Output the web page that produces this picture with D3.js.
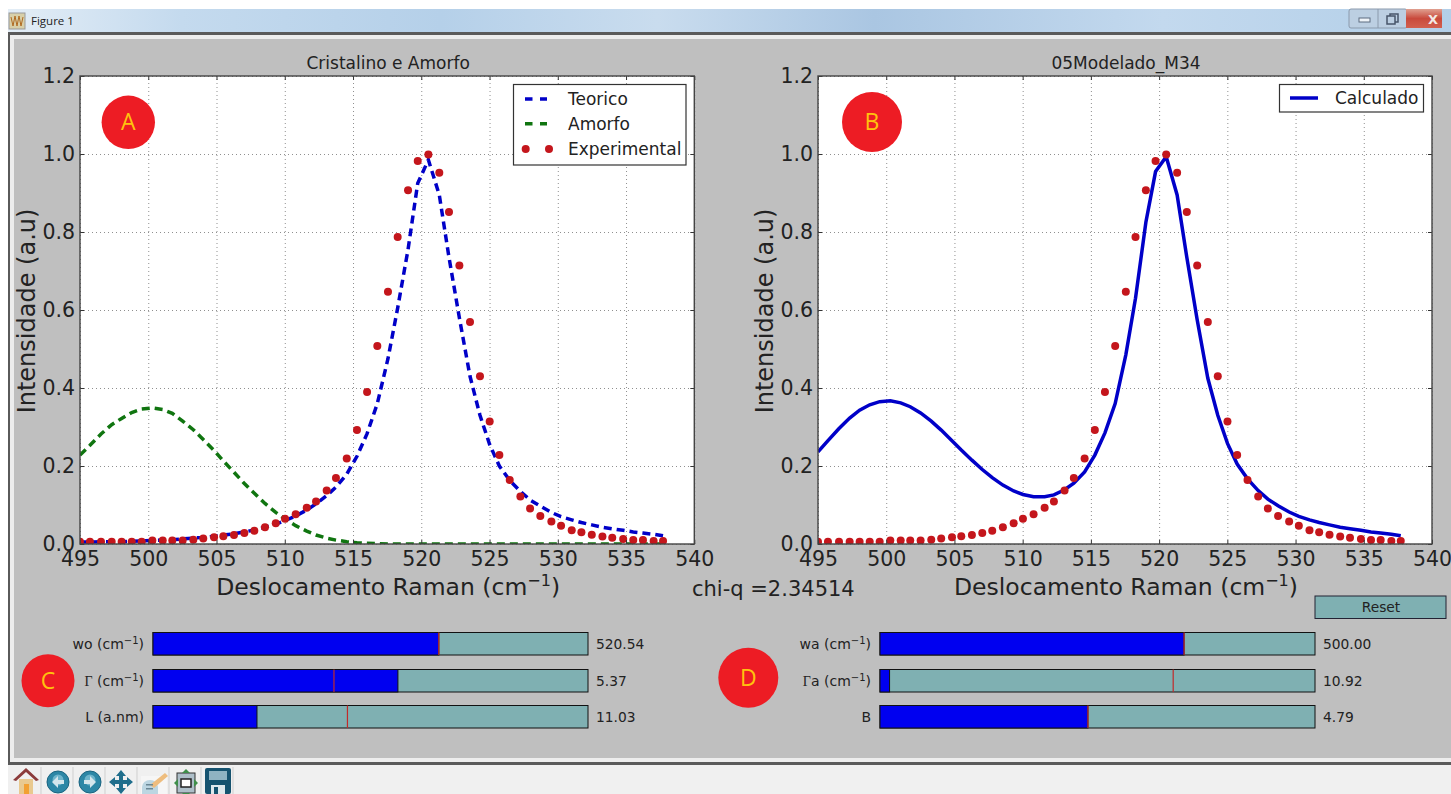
<!DOCTYPE html>
<html>
<head>
<meta charset="utf-8">
<script src="https://cdn.jsdelivr.net/npm/d3@7"></script>
<style>
html, body { margin: 0; padding: 0; background: #fff; }
svg { display: block; }
text { font-family: "DejaVu Sans", sans-serif; fill: #222; }
.grid line { stroke: #8f8f8f; stroke-width: 1; stroke-dasharray: 1 3; }
.grid path, .noline path { display: none; }
.ticks line { stroke: #333; }
.ticks text { font-size: 20.5px; }
</style>
</head>
<body>
<div id="chart"></div>
<script>
// raman shift samples
var ramanShift = [495.00,495.73,496.54,497.32,498.05,498.79,499.52,500.30,501.06,501.76,
    502.52,503.30,504.03,504.82,505.50,506.28,507.04,507.77,508.55,509.34,
    510.02,510.80,511.61,512.29,513.07,513.75,514.54,515.29,516.03,516.78,
    517.56,518.27,519.03,519.74,520.52,521.32,522.03,522.79,523.57,524.30,
    525.01,525.72,526.48,527.26,527.97,528.72,529.53,530.24,531.02,531.73,
    532.49,533.27,533.99,534.79,535.53,536.24,537.02,537.71];

var experimental = [.006,.006,.006,.006,.006,.006,.006,.009,.009,.009,
    .009,.011,.014,.017,.020,.023,.028,.034,.043,.053,
    .065,.076,.093,.109,.137,.169,.219,.292,.390,.508,
    .647,.787,.907,.982,.999,.952,.851,.714,.569,.430,
    .314,.228,.164,.122,.091,.072,.058,.047,.035,.030,
    .024,.019,.016,.013,.010,.010,.008,.008];

var teorico = [.005,.005,.006,.006,.006,.007,.008,.009,.010,.011,
    .013,.015,.017,.020,.023,.026,.031,.036,.043,.051,
    .060,.072,.087,.103,.124,.146,.179,.225,.283,.360,
    .475,.605,.755,.925,.985,.895,.735,.580,.430,.330,
    .255,.200,.163,.135,.113,.097,.081,.070,.062,.055,
    .049,.043,.039,.035,.031,.028,.025,.021];

var amorfo = [.228,.253,.282,.306,.322,.337,.346,.349,.345,.335,
    .315,.293,.268,.240,.213,.184,.155,.130,.104,.081,
    .064,.047,.033,.023,.015,.010,.006,.003,.002,.001,
    0,0,0,0,0,0,0,0,0,0,
    0,0,0,0,0,0,0,0,0,0,
    0,0,0,0,0,0,0,0];

var calculado = [.236,.265,.296,.323,.343,.357,.365,.367,.362,.352,
    .336,.315,.292,.265,.241,.215,.191,.170,.151,.136,
    .127,.121,.121,.126,.139,.156,.185,.228,.285,.360,
    .485,.630,.825,.955,.993,.895,.735,.575,.425,.330,
    .258,.205,.167,.137,.115,.098,.082,.071,.062,.055,
    .049,.043,.039,.035,.031,.028,.025,.021];

var xTicks = [495,500,505,510,515,520,525,530,535,540];
var yTicks = [0,.2,.4,.6,.8,1,1.2];

var leftSliderNames = ['wo', 'Γ', 'L (a.nm)'];
var leftSliderValues = ['520.54', '5.37', '11.03'];
var leftSliderFill = [.657, .563, .239];
var leftSliderInit = [.657, .416, .447];

var rightSliderNames = ['wa', 'Γa', 'B'];
var rightSliderValues = ['500.00', '10.92', '4.79'];
var rightSliderFill = [.699, .022, .478];
var rightSliderInit = [.699, .674, .478];

var badges = ['A', 'B', 'C', 'D'];

var svg = d3.select('#chart').append('svg')
    .attr('width', 1451)
    .attr('height', 794);

var defs = svg.append('defs');
var barGrad = defs.append('linearGradient').attr('id', 'bar');
[[0, '#e3edf6'], [.12, '#c4daee'], [.3, '#b5d0e9'], [.45, '#c9dcee'], [.6, '#aac6e2'], [.8, '#c3d9ee'], [1, '#b3cfe8']]
    .forEach(function(s) { barGrad.append('stop').attr('offset', s[0]).attr('stop-color', s[1]); });
var closeGrad = defs.append('linearGradient').attr('id', 'close').attr('x2', 0).attr('y2', 1);
closeGrad.append('stop').attr('offset', 0).attr('stop-color', '#e0a090');
closeGrad.append('stop').attr('offset', .5).attr('stop-color', '#c94a3c');
closeGrad.append('stop').attr('offset', 1).attr('stop-color', '#d2604f');

function drawWindow() {
    svg.append('rect').attr('x', 8).attr('y', 9).attr('width', 1443).attr('height', 785).attr('fill', '#f0f0f0');
    svg.append('rect').attr('x', 8).attr('y', 9).attr('width', 1443).attr('height', 23).attr('fill', 'url(#bar)');
    svg.append('rect').attr('x', 8).attr('y', 32).attr('width', 1443).attr('height', 733).attr('fill', '#5a5a5a');
    svg.append('rect').attr('x', 10).attr('y', 35).attr('width', 1441).attr('height', 727).attr('fill', '#ededed');
    svg.append('rect').attr('x', 14).attr('y', 39).attr('width', 1437).attr('height', 719).attr('fill', '#bfbfbf');

    svg.append('rect').attr('x', 9).attr('y', 13).attr('width', 16).attr('height', 16).attr('fill', '#d8cfa8').attr('stroke', '#999');
    svg.append('path').attr('d', 'M11 17L13 26L15 16L17 26L19 16L21 26L23 17').attr('fill', 'none').attr('stroke', '#b06a20');
    svg.append('text').attr('x', 31).attr('y', 25).style('font-family', '"Open Sans"').style('font-size', '11.5px').text('Figure 1');

    svg.append('rect').attr('x', 1349).attr('y', 9).attr('width', 58).attr('height', 19).attr('rx', 2).attr('fill', '#bccfe2').attr('stroke', '#8b9aac');
    svg.append('rect').attr('x', 1406).attr('y', 9).attr('width', 36).attr('height', 19).attr('fill', 'url(#close)');
    svg.append('line').attr('x1', 1378).attr('x2', 1378).attr('y1', 9).attr('y2', 28).attr('stroke', '#8b9aac');
    svg.append('rect').attr('x', 1359).attr('y', 18).attr('width', 11).attr('height', 4).attr('fill', '#eef3f8').attr('stroke', '#5d6d80');
    svg.append('rect').attr('x', 1390).attr('y', 14).attr('width', 8).attr('height', 8).attr('fill', 'none').attr('stroke', '#47566a').attr('stroke-width', 1.5);
    svg.append('rect').attr('x', 1387).attr('y', 16).attr('width', 8).attr('height', 8).attr('fill', '#bccfe2').attr('stroke', '#47566a').attr('stroke-width', 1.5);
    svg.append('text').attr('x', 1433).attr('y', 24).attr('text-anchor', 'middle')
        .style('font-size', '13px').style('font-weight', 'bold').style('fill', '#f3e9e4').text('X');
}

function drawToolbar() {
    var g = svg.append('g').attr('transform', 'translate(10,767)');
    [41, 73, 105, 137, 169, 201, 233].forEach(function(x) {
        svg.append('line').attr('x1', x).attr('x2', x).attr('y1', 767).attr('y2', 794).attr('stroke', '#cfcfcf');
    });
    // home
    g.append('path').attr('d', 'M3 13L16 1L29 13L26 14L16 5L6 14Z').attr('fill', '#8c3b3b');
    g.append('rect').attr('x', 9).attr('y', 12).attr('width', 14).attr('height', 15).attr('fill', '#e9c98f');
    g.append('rect').attr('x', 14).attr('y', 17).attr('width', 5).attr('height', 10).attr('fill', '#f2a032');
    // back, forward
    [48, 80].forEach(function(cx, i) {
        g.append('circle').attr('cx', cx).attr('cy', 15).attr('r', 11).attr('fill', '#2d87a6').attr('stroke', '#1b6480');
        g.append('circle').attr('cx', cx).attr('cy', 13).attr('r', 5.5).attr('fill', '#6fb5cc');
        g.append('path').attr('d', i == 0 ? 'M'+(cx-6)+' 15l6 -6v4h6v4h-6v4z' : 'M'+(cx+6)+' 15l-6 -6v4h-6v4h6v4z').attr('fill', '#d5e6ec');
    });
    // move
    g.append('path').attr('d', 'M111 3l5 6h-3v4h4v-3l6 5-6 5v-3h-4v4h3l-5 6-5-6h3v-4h-4v3l-6-5 6-5v3h4v-4h-3z').attr('fill', '#1f6e8c');
    // edit
    g.append('rect').attr('x', 131).attr('y', 9).attr('width', 26).attr('height', 19).attr('fill', '#f6f6f6');
    g.append('path').attr('d', 'M132 20a8 7 0 1 1 16 0v7h-16z').attr('fill', '#bcd6e2');
    g.append('path').attr('d', 'M140 18L155 6L158 9L144 21Z').attr('fill', '#eebd7e');
    g.append('rect').attr('x', 136).attr('y', 17).attr('width', 7).attr('height', 1.5).attr('fill', '#6a8795');
    g.append('rect').attr('x', 136).attr('y', 21).attr('width', 7).attr('height', 1.5).attr('fill', '#6a8795');
    // subplots
    g.append('rect').attr('x', 167).attr('y', 6).attr('width', 18).attr('height', 20).attr('fill', '#aebfc9').attr('stroke', '#333');
    g.append('rect').attr('x', 171).attr('y', 12).attr('width', 10).attr('height', 8).attr('fill', '#fff').attr('stroke', '#222').attr('stroke-width', 1.5);
    g.append('path').attr('d', 'M176 2l4 4h-8zM176 30l4-4h-8zM164 16l4-4v8zM188 16l-4-4v8z').attr('fill', '#3f8f4a');
    // save
    g.append('rect').attr('x', 195).attr('y', 1).attr('width', 26).attr('height', 26).attr('rx', 2).attr('fill', '#16536f');
    g.append('rect').attr('x', 199).attr('y', 4).attr('width', 18).attr('height', 9).attr('fill', '#8fb3c2');
    g.append('rect').attr('x', 201).attr('y', 18).attr('width', 14).attr('height', 9).attr('fill', '#dfe8ec');
    g.append('rect').attr('x', 204).attr('y', 20).attr('width', 4).attr('height', 7).attr('fill', '#16536f');
}

function drawPanel(left, right, title, seriesFn) {
    var x = d3.scaleLinear().domain([495, 540]).range([left, right]);
    var y = d3.scaleLinear().domain([0, 1.2]).range([544, 76]);
    var g = svg.append('g');
    var clipId = 'clip' + left;

    defs.append('clipPath').attr('id', clipId).append('rect')
        .attr('x', left).attr('y', 76).attr('width', right - left).attr('height', 468);

    g.append('rect').attr('x', left).attr('y', 76).attr('width', right - left).attr('height', 468).attr('fill', '#fff');

    g.append('g').attr('class', 'grid').attr('transform', 'translate(0,544)')
        .call(d3.axisBottom(x).tickValues(xTicks).tickSize(-468).tickFormat(''));
    g.append('g').attr('class', 'grid').attr('transform', 'translate(' + left + ',0)')
        .call(d3.axisLeft(y).tickValues(yTicks).tickSize(-(right - left)).tickFormat(''));

    var plot = g.append('g').attr('clip-path', 'url(#' + clipId + ')');
    seriesFn(plot, x, y);

    g.append('g').attr('class', 'ticks noline').attr('transform', 'translate(0,544)')
        .call(d3.axisBottom(x).tickValues(xTicks).tickSizeInner(-4).tickPadding(7).tickFormat(d3.format('d')));
    g.append('g').attr('class', 'ticks noline').attr('transform', 'translate(' + left + ',0)')
        .call(d3.axisLeft(y).tickValues(yTicks).tickSizeInner(-4).tickPadding(5).tickFormat(d3.format('.1f')));
    g.append('g').attr('class', 'ticks noline').attr('transform', 'translate(0,76)')
        .call(d3.axisTop(x).tickValues(xTicks).tickSizeInner(-4).tickFormat(''));
    g.append('g').attr('class', 'ticks noline').attr('transform', 'translate(' + right + ',0)')
        .call(d3.axisRight(y).tickValues(yTicks).tickSizeInner(-4).tickFormat(''));

    g.append('rect').attr('x', left).attr('y', 76).attr('width', right - left).attr('height', 468)
        .attr('fill', 'none').attr('stroke', '#444').attr('stroke-width', 1.4);

    g.append('text').attr('x', (left + right) / 2 + 1).attr('y', 69).attr('text-anchor', 'middle')
        .style('font-size', '17px').text(title);

    var xl = g.append('text').attr('x', (left + right) / 2 + 1).attr('y', 595).attr('text-anchor', 'middle').style('font-size', '23.5px');
    xl.append('tspan').text('Deslocamento Raman (cm');
    xl.append('tspan').attr('dy', -9).style('font-size', '16px').text('−1');
    xl.append('tspan').attr('dy', 9).text(')');

    g.append('text').attr('transform', 'translate(' + (left - 45) + ',311) rotate(-90)').attr('text-anchor', 'middle')
        .style('font-size', '24px').text('Intensidade (a.u)');
}

function drawLine(plot, x, y, values, color, dash) {
    var line = d3.line()
        .x(function(d, i) { return x(ramanShift[i]); })
        .y(function(d) { return y(d); });
    plot.append('path').datum(values)
        .attr('d', line)
        .attr('fill', 'none')
        .attr('stroke', color)
        .attr('stroke-width', 3.5)
        .attr('stroke-dasharray', dash);
}

function drawDots(plot, x, y) {
    plot.selectAll('circle.exp').data(experimental).enter().append('circle')
        .attr('class', 'exp')
        .attr('cx', function(d, i) { return x(ramanShift[i]); })
        .attr('cy', function(d) { return y(d); })
        .attr('r', 4)
        .attr('fill', '#c4161c');
}

function legendBox(x, y, w, h) {
    svg.append('rect').attr('x', x).attr('y', y).attr('width', w).attr('height', h)
        .attr('fill', '#fff').attr('stroke', '#333').attr('stroke-width', 1.2);
}

function legendText(x, y, s) {
    svg.append('text').attr('x', x).attr('y', y).style('font-size', '17px').text(s);
}

function drawSliders(x0, x1, names, values, fills, inits, unitFrom) {
    var sx = d3.scaleLinear().domain([0, 1]).range([x0, x1]);
    var rows = [632.5, 669.5, 705.5];
    names.forEach(function(name, i) {
        var top = rows[i];
        svg.append('rect').attr('x', sx(0)).attr('y', top).attr('width', sx(1) - sx(0)).attr('height', 22.5)
            .attr('fill', '#7fb0b2').attr('stroke', '#111').attr('stroke-width', 1);
        svg.append('rect').attr('x', sx(0)).attr('y', top).attr('width', sx(fills[i]) - sx(0)).attr('height', 22.5)
            .attr('fill', '#0000f0').attr('stroke', '#111').attr('stroke-width', 1);
        svg.append('line').attr('x1', sx(inits[i])).attr('x2', sx(inits[i])).attr('y1', top).attr('y2', top + 22.5)
            .attr('stroke', '#c22a2a').attr('stroke-width', 1.2);

        var t = svg.append('text').attr('x', x0 - 9).attr('y', top + 16).attr('text-anchor', 'end').style('font-size', '14px');
        if (i < unitFrom) {
            t.append('tspan').style('font-family', i == 1 ? '"Liberation Serif"' : null).text(name.charAt(0));
            t.append('tspan').text(name.slice(1) + ' (cm');
            t.append('tspan').attr('dy', -5).style('font-size', '10px').text('−1');
            t.append('tspan').attr('dy', 5).text(')');
        } else {
            t.text(name);
        }
        svg.append('text').attr('x', x1 + 8).attr('y', top + 16).style('font-size', '13.8px').text(values[i]);
    });
}

function drawBadge(letter, cx, cy, r) {
    svg.append('circle').attr('cx', cx).attr('cy', cy).attr('r', r).attr('fill', '#ed1c24');
    svg.append('text').attr('x', cx).attr('y', cy + 8).attr('text-anchor', 'middle')
        .style('font-family', '"Open Sans"').style('font-size', '23px').style('fill', '#ffc20e').text(letter);
}

drawWindow();
drawToolbar();

drawPanel(80, 694.3, 'Cristalino e Amorfo', function(plot, x, y) {
    drawLine(plot, x, y, teorico, '#0000c8', '8 5');
    drawLine(plot, x, y, amorfo, '#107510', '8 5');
    drawDots(plot, x, y);
});

drawPanel(818, 1432, '05Modelado_M34', function(plot, x, y) {
    drawLine(plot, x, y, calculado, '#0000c8', null);
    drawDots(plot, x, y);
});

// legends
legendBox(513.5, 84.5, 172.5, 80.5);
svg.append('line').attr('x1', 525).attr('x2', 547).attr('y1', 99).attr('y2', 99).attr('stroke', '#0000c8').attr('stroke-width', 3.5).attr('stroke-dasharray', '7.5 7.5');
svg.append('line').attr('x1', 525).attr('x2', 547).attr('y1', 123.7).attr('y2', 123.7).attr('stroke', '#107510').attr('stroke-width', 3.5).attr('stroke-dasharray', '7.5 7.5');
svg.append('circle').attr('cx', 525.7).attr('cy', 149).attr('r', 4).attr('fill', '#c4161c');
svg.append('circle').attr('cx', 549).attr('cy', 149).attr('r', 4).attr('fill', '#c4161c');
legendText(568, 105, 'Teorico');
legendText(568, 130, 'Amorfo');
legendText(568, 155, 'Experimental');

legendBox(1279.5, 84.5, 144, 27.5);
svg.append('line').attr('x1', 1290).attr('x2', 1318).attr('y1', 98).attr('y2', 98).attr('stroke', '#0000c8').attr('stroke-width', 3.5);
legendText(1335, 104, 'Calculado');

svg.append('text').attr('x', 692).attr('y', 596).style('font-size', '21px').text('chi-q =2.34514');

drawSliders(153, 588, leftSliderNames, leftSliderValues, leftSliderFill, leftSliderInit, 2);
drawSliders(880, 1315, rightSliderNames, rightSliderValues, rightSliderFill, rightSliderInit, 2);

// reset button
svg.append('rect').attr('x', 1315).attr('y', 596).attr('width', 131).attr('height', 22.5)
    .attr('fill', '#7fb0b2').attr('stroke', '#223').attr('stroke-width', 1);
svg.append('text').attr('x', 1381).attr('y', 612).attr('text-anchor', 'middle').style('font-size', '13.8px').text('Reset');

drawBadge(badges[0], 128.3, 122.3, 26.7);
drawBadge(badges[1], 872, 122, 30);
drawBadge(badges[2], 48, 680.7, 26.5);
drawBadge(badges[3], 748.3, 677.7, 30);
</script>
</body>
</html>
